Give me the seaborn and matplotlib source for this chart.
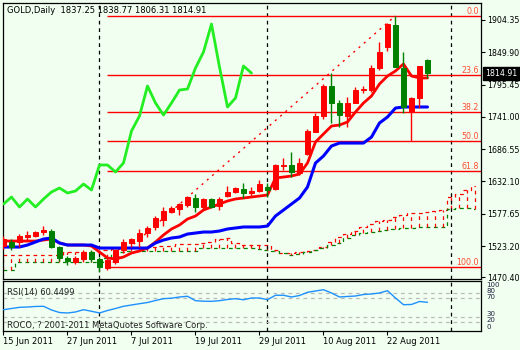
import numpy as np
import matplotlib
matplotlib.use("Agg")
import matplotlib.pyplot as plt
import seaborn as sns
from matplotlib.transforms import blended_transform_factory

BG = "#F0FFF0"
sns.set_style("white", rc={"axes.facecolor": BG, "figure.facecolor": BG,
                           "axes.edgecolor": "black"})
plt.rcParams["font.family"] = ["DejaVu Sans"]

# ---------------- data ----------------
title_text = "GOLD,Daily  1837.25 1838.77 1806.31 1814.91"
opens = [1523.3, 1530.1, 1530.1, 1538.5, 1540.2, 1546.9, 1548.6, 1521.6, 1503.1, 1496.3,
         1501.4, 1513.2, 1501.4, 1486.2, 1496.3, 1516.6, 1528.4, 1531.8, 1545.2, 1555.4,
         1567.2, 1580.6, 1585.7, 1592.4, 1604.2, 1589.1, 1602.5, 1590.8, 1607.6, 1614.4,
         1619.5, 1612.7, 1616.1, 1622.8, 1619.5, 1658.2, 1659.9, 1646.4, 1678.4, 1715.5,
         1742.5, 1793.1, 1764.4, 1742.5, 1764.4, 1786.3, 1786.3, 1823.4, 1858.8, 1895.9,
         1823.4, 1749.2, 1772.8, 1837.25]
highs = [1540.2, 1535.1, 1543.5, 1548.6, 1548.6, 1557.0, 1552.0, 1523.3, 1506.5, 1506.5,
         1516.6, 1516.6, 1504.8, 1503.1, 1518.3, 1535.1, 1536.8, 1552.0, 1557.0, 1573.9,
         1589.1, 1590.8, 1595.8, 1607.6, 1611.0, 1604.2, 1604.2, 1605.9, 1624.5, 1622.8,
         1629.5, 1622.8, 1634.6, 1629.5, 1661.6, 1671.7, 1681.8, 1671.7, 1720.6, 1747.6,
         1796.5, 1815.0, 1769.5, 1774.5, 1791.4, 1793.1, 1828.5, 1867.3, 1899.3, 1911.5,
         1850.4, 1774.5, 1826.8, 1838.77]
lows = [1518.3, 1516.6, 1521.6, 1531.8, 1538.5, 1541.9, 1519.9, 1498.0, 1491.3, 1493.0,
        1498.0, 1496.3, 1479.5, 1482.9, 1493.0, 1513.2, 1521.6, 1521.6, 1538.5, 1550.3,
        1557.0, 1578.9, 1575.6, 1589.1, 1580.6, 1584.0, 1587.4, 1584.0, 1605.9, 1612.7,
        1604.2, 1605.9, 1614.4, 1605.9, 1617.7, 1651.4, 1639.7, 1643.0, 1676.7, 1715.5,
        1737.4, 1730.7, 1723.9, 1723.9, 1764.4, 1781.3, 1782.9, 1820.1, 1852.1, 1825.1,
        1747.6, 1700.3, 1756.0, 1806.31]
closes = [1535.1, 1521.6, 1540.2, 1541.9, 1546.9, 1550.3, 1521.6, 1503.1, 1498.0, 1503.1,
          1513.2, 1501.4, 1487.9, 1499.7, 1516.6, 1530.1, 1535.1, 1545.2, 1553.7, 1570.5,
          1582.3, 1587.4, 1594.1, 1605.9, 1589.1, 1602.5, 1589.1, 1602.5, 1614.4, 1621.1,
          1612.7, 1616.1, 1627.8, 1617.7, 1659.9, 1659.9, 1648.1, 1663.3, 1717.2, 1742.5,
          1793.1, 1764.4, 1744.2, 1764.4, 1786.3, 1788.0, 1823.4, 1850.4, 1897.6, 1825.1,
          1757.7, 1772.8, 1826.8, 1814.91]
tenkan = [1531.7, 1531.7, 1531.7, 1531.7, 1531.7, 1533.4, 1535.1, 1528.4, 1525.0, 1525.0,
          1525.0, 1523.3, 1513.2, 1503.1, 1501.4, 1504.8, 1511.5, 1514.9, 1519.9, 1530.1,
          1541.9, 1552.0, 1558.7, 1568.8, 1573.9, 1584.0, 1589.1, 1594.1, 1599.2, 1602.6,
          1604.2, 1605.9, 1607.6, 1609.3, 1638.0, 1639.6, 1641.3, 1644.7, 1663.2, 1698.7,
          1712.2, 1725.6, 1727.3, 1732.4, 1749.2, 1764.4, 1776.2, 1796.5, 1809.9, 1818.4,
          1830.2, 1809.9, 1806.6, 1806.6]
kijun = [1521.6, 1521.6, 1521.6, 1525.0, 1530.1, 1535.1, 1536.8, 1528.4, 1525.0, 1525.0,
         1525.0, 1525.0, 1519.9, 1519.9, 1519.9, 1519.9, 1519.9, 1519.9, 1519.9, 1528.4,
         1533.4, 1536.8, 1538.5, 1543.5, 1545.2, 1546.9, 1546.9, 1548.6, 1552.0, 1553.7,
         1555.4, 1555.4, 1555.4, 1557.0, 1573.9, 1584.0, 1594.1, 1604.2, 1622.8, 1663.2,
         1675.1, 1691.9, 1696.9, 1696.9, 1696.9, 1696.9, 1707.0, 1730.7, 1740.8, 1755.9,
         1757.7, 1757.7, 1757.7, 1757.7]
span_a = [1508.1, 1508.1, 1508.1, 1508.1, 1508.1, 1508.1, 1508.1, 1508.1, 1513.2, 1513.2,
          1513.2, 1513.2, 1514.9, 1516.6, 1518.3, 1519.9, 1521.6, 1521.6, 1521.6, 1521.6,
          1523.3, 1523.3, 1526.6, 1526.6, 1526.6, 1528.4, 1530.9, 1534.3, 1536.0, 1528.4,
          1525.0, 1525.0, 1525.0, 1524.2, 1516.6, 1511.5, 1510.7, 1512.4, 1515.7, 1517.4,
          1521.5, 1529.3, 1537.7, 1544.4, 1548.6, 1556.2, 1559.6, 1565.5, 1568.0, 1571.4,
          1575.6, 1578.2, 1579.8, 1580.7, 1581.5, 1583.2, 1606.0, 1611.8, 1617.7, 1624.5]
span_b = [1482.9, 1482.9, 1496.4, 1496.4, 1496.4, 1496.4, 1496.4, 1496.4, 1496.4, 1496.4,
          1496.4, 1496.4, 1496.4, 1503.1, 1509.8, 1513.2, 1514.9, 1514.9, 1514.9, 1514.9,
          1514.9, 1514.9, 1514.9, 1514.9, 1514.9, 1519.9, 1519.9, 1519.9, 1519.9, 1519.9,
          1519.9, 1519.9, 1518.3, 1516.6, 1514.9, 1511.5, 1508.1, 1509.8, 1513.2, 1516.6,
          1519.9, 1525.0, 1528.4, 1536.8, 1541.9, 1545.2, 1546.9, 1548.6, 1550.3, 1552.0,
          1553.7, 1553.7, 1555.4, 1555.4, 1555.4, 1555.4, 1585.7, 1587.4, 1587.4, 1585.7]
rsi = [45.0, 47.6, 50.0, 50.7, 51.8, 52.2, 44.5, 39.2, 38.2, 40.3,
       45.1, 41.8, 38.2, 43.4, 47.6, 52.2, 54.9, 57.6, 60.1, 64.3,
       68.1, 69.1, 71.6, 73.1, 63.9, 62.8, 62.6, 63.9, 66.4, 68.1,
       65.8, 69.5, 69.5, 66.0, 75.2, 75.2, 71.6, 74.7, 81.4, 84.1,
       86.8, 80.0, 71.6, 72.7, 73.7, 76.8, 77.9, 80.0, 84.8, 69.5,
       55.5, 56.0, 62.2, 60.45]
rsi_levels = [80, 70, 30, 20]
rsi_scale_labels = ["100", "80", "70", "30", "20", "0"]
fib_labels = ["0.0", "23.6", "38.2", "50.0", "61.8", "100.0"]
fib_prices = [1911.5, 1811.5, 1749.7, 1699.7, 1649.7, 1487.9]
fib_anchor_bars = [13, 49]          # low bar, high bar
month_start_bars = [12, 33, 56]
date_tick_bars = [0, 8, 16, 24, 32, 40, 48]
date_tick_labels = ["15 Jun 2011", "27 Jun 2011", "7 Jul 2011", "19 Jul 2011",
                    "29 Jul 2011", "10 Aug 2011", "22 Aug 2011"]
price_ticks = [1904.35, 1849.90, 1795.45, 1741.00, 1686.55, 1632.10, 1577.65, 1523.20, 1470.40]
last_price = 1814.91
CHIKOU_SHIFT = 22

RED = "#FF0000"
GREEN = "#008000"
BLUE = "#0000FF"
LIME = "#22EE22"
FS = 5.7

# ---------------- layout ----------------
W, H = 520, 350
fig = plt.figure(figsize=(W / 100, H / 100), dpi=100)


def frac(x0, y0, x1, y1):
    return [x0 / W, 1 - y1 / H, (x1 - x0) / W, (y1 - y0) / H]


ax = fig.add_axes(frac(3, 3, 481, 279))
axr = fig.add_axes(frac(3, 281, 481, 331), sharex=ax)
for a in (ax, axr):
    a.set_facecolor(BG)
    for s in a.spines.values():
        s.set_visible(True)
        s.set_color("black")
        s.set_linewidth(0.9)

o = np.array(opens); h = np.array(highs); l = np.array(lows); c = np.array(closes)
idx = np.arange(len(c))
cols = np.where(c > o, RED, GREEN)

# ---------------- cloud ----------------
ia = np.arange(len(span_a))
A = np.array(span_a); B = np.array(span_b)
dash = (0, (3, 3))
ax.plot(ia, A, color=RED, lw=0.9, ls=dash, drawstyle="steps-mid", zorder=1)
ax.plot(ia, B, color=GREEN, lw=0.9, ls=dash, drawstyle="steps-mid", zorder=1)
ax.vlines(ia, B, A, colors=np.where(A >= B, RED, GREEN), lw=0.9,
          linestyles=dash, zorder=1)

# ---------------- fibonacci ----------------
ax.hlines(fib_prices, fib_anchor_bars[0], 60, color=RED, lw=1.0, zorder=2)
ax.plot(fib_anchor_bars, [fib_prices[-1], fib_prices[0]], color=RED, lw=1.0,
        ls=(0, (1.5, 3.5)), zorder=2)
for lab, p in zip(fib_labels, fib_prices):
    ax.text(59.45, p + 3.2, lab, ha="right", va="baseline", fontsize=FS,
            color="#FF4A30", zorder=6)

# ---------------- month separators ----------------
for m in month_start_bars:
    ax.axvline(m, color="black", lw=0.9, ls=dash, zorder=1)
    axr.axvline(m, color="black", lw=0.9, ls=dash, zorder=1)

# ---------------- candles ----------------
ax.vlines(idx, l, h, colors=cols, lw=1.0, zorder=4)
ax.bar(idx, np.abs(c - o), bottom=np.minimum(o, c), width=0.6, color=cols,
       edgecolor=cols, lw=0.7, zorder=5)

# ---------------- ichimoku lines ----------------
sns.lineplot(x=idx, y=tenkan, ax=ax, color=RED, linewidth=2.0, sort=False,
             legend=False, zorder=3)
sns.lineplot(x=idx, y=kijun, ax=ax, color=BLUE, linewidth=2.2, sort=False,
             legend=False, zorder=3)
sns.lineplot(x=idx[:-CHIKOU_SHIFT], y=c[CHIKOU_SHIFT:], ax=ax, color=LIME,
             linewidth=2.0, sort=False, legend=False, zorder=3)

# ---------------- main axis cosmetics ----------------
ax.set_xlim(-0.0625, 59.69)
ax.set_ylim(1467.7, 1933.0)
ax.yaxis.tick_right()
ax.set_yticks(price_ticks)
ax.set_yticklabels([f"{p:.2f}" for p in price_ticks])
ax.tick_params(axis="y", which="both", right=True, left=False, direction="out",
               length=3, width=0.8, pad=1.5, labelsize=FS, colors="black")
ax.tick_params(axis="x", bottom=False, labelbottom=False)
ax.set_xlabel(""); ax.set_ylabel("")
ax.text(0.0084, 0.9746, title_text, transform=ax.transAxes, ha="left", va="center",
        fontsize=6, color="black")
tr = blended_transform_factory(ax.transAxes, ax.transData)
ax.text(1.009, last_price, f"{last_price:.2f}", transform=tr, ha="left", va="center",
        fontsize=FS, color="white", clip_on=False, zorder=10,
        bbox=dict(boxstyle="square,pad=0.25", fc="black", ec="black"))

# ---------------- RSI panel ----------------
for lv in rsi_levels:
    axr.axhline(lv, color="#BBBBBB", lw=0.9, ls=dash, zorder=1)
sns.lineplot(x=idx, y=rsi, ax=axr, color="#1E90FF", linewidth=1.0, sort=False,
             legend=False, zorder=3)
axr.set_ylim(0.6, 105)
axr.set_yticks([])
axr.set_xlabel(""); axr.set_ylabel("")
axr.set_xticks(date_tick_bars)
axr.set_xticklabels(date_tick_labels, ha="left")
axr.tick_params(axis="x", bottom=True, direction="out", length=3, width=0.8,
                pad=1.5, labelsize=6, colors="black")
axr.text(0.0084, 0.78, "RSI(14) 60.4499", transform=axr.transAxes, ha="left",
         va="center", fontsize=6, color="#222222")
axr.text(0.0084, 0.12, "ROCO, ? 2001-2011 MetaQuotes Software Corp.",
         transform=axr.transAxes, ha="left", va="center", fontsize=6, color="#222222")
trr = blended_transform_factory(axr.transAxes, axr.transData)
for lab, v in zip(rsi_scale_labels, [97.0, 84.3, 70.8, 35.5, 22.8, 9.5]):
    axr.text(1.0105, v, lab, transform=trr, ha="left", va="center", fontsize=5.0,
             color="#202040", clip_on=False)

fig.savefig("out.png", dpi=100, facecolor=BG)
